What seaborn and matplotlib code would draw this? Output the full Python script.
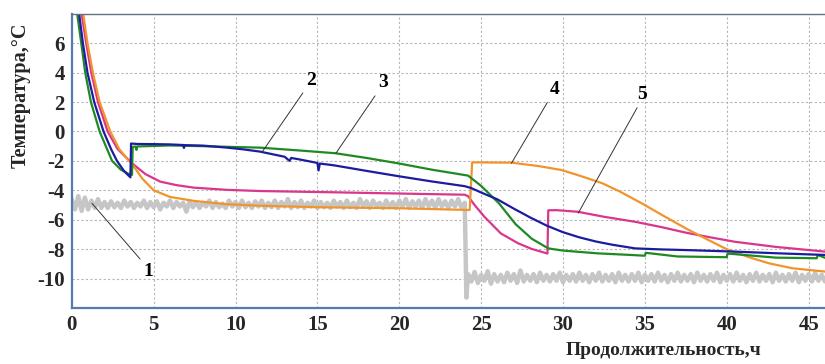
import numpy as np
import pandas as pd
import matplotlib
matplotlib.use("Agg")
import matplotlib.pyplot as plt
import seaborn as sns

# ---- data (time in hours, temperature in degC) ----
BLUE_T = [0.30, 0.45, 0.68, 0.96, 1.37, 1.94, 2.40, 2.76, 3.20, 3.58, 3.62, 4.00, 5.00, 6.00,
          6.80, 6.85, 6.90, 8.00, 9.50, 10.50, 11.50, 13.00, 13.30, 13.40, 14.00, 15.00, 15.07,
          15.15, 16.00, 18.00, 20.00, 22.00, 24.00, 24.40, 25.00, 26.00, 27.00, 28.00, 29.00,
          30.00, 31.00, 32.00, 33.00, 34.40, 36.00, 38.00, 40.50, 43.00, 46.10]
BLUE_V = [9.2, 8.0, 6.0, 4.0, 2.0, 0.0, -1.2, -2.0, -2.7, -3.12, -0.82, -0.85, -0.86, -0.88,
          -0.92, -1.12, -0.93, -0.96, -1.10, -1.22, -1.37, -1.72, -2.00, -1.80, -1.92, -2.14, -2.65,
          -2.18, -2.30, -2.68, -3.05, -3.40, -3.72, -3.85, -4.15, -4.62, -5.25, -5.85, -6.40,
          -6.85, -7.20, -7.48, -7.70, -7.95, -8.02, -8.08, -8.17, -8.28, -8.40]

GREEN_T = [0.25, 0.33, 0.58, 0.82, 1.17, 1.70, 2.46, 3.00, 3.50, 3.68, 3.72, 3.90, 3.95, 4.00,
           6.00, 8.00, 11.50, 14.00, 16.10, 18.00, 19.90, 22.00, 24.20, 25.00, 26.10, 27.10,
           28.10, 29.10, 30.00, 32.15, 34.20, 35.00, 35.05, 37.00, 40.00, 40.05, 43.00, 45.50,
           45.55, 46.10]
GREEN_V = [9.2, 8.0, 6.0, 4.0, 2.0, 0.0, -2.0, -2.6, -2.9, -2.95, -1.05, -1.02, -1.25, -1.02,
           -0.95, -1.00, -1.10, -1.30, -1.48, -1.80, -2.16, -2.60, -3.00, -3.70, -4.90, -6.30,
           -7.30, -7.95, -8.10, -8.29, -8.40, -8.45, -8.25, -8.50, -8.55, -8.30, -8.58, -8.62,
           -8.40, -8.63]

ORANGE_T = [0.55, 0.70, 0.96, 1.29, 1.70, 2.35, 2.90, 3.50, 3.68, 4.30, 5.00, 6.00, 7.45,
            9.50, 11.50, 15.00, 20.00, 24.30, 24.45, 26.85, 28.50, 29.90, 31.00, 32.40, 33.50,
            34.80, 36.00, 37.50, 39.00, 40.10, 41.50, 42.60, 44.00, 46.10]
ORANGE_V = [9.2, 8.0, 6.0, 4.0, 2.0, 0.0, -1.2, -2.0, -2.2, -3.2, -4.0, -4.45, -4.72,
            -4.95, -5.05, -5.15, -5.22, -5.34, -2.10, -2.12, -2.35, -2.62, -3.00, -3.52, -4.10,
            -4.88, -5.65, -6.59, -7.45, -8.06, -8.60, -8.97, -9.30, -9.54]

MAGENTA_T = [0.45, 0.60, 0.88, 1.19, 1.60, 2.19, 2.80, 3.68, 4.50, 5.40, 6.40, 7.45, 9.50,
             11.50, 16.20, 20.00, 24.00, 24.20, 24.60, 25.20, 26.20, 27.25, 28.07, 29.05,
             29.10, 29.60, 30.90, 32.50, 34.40, 36.00, 37.50, 39.00, 40.50, 43.00, 46.10]
MAGENTA_V = [9.2, 8.0, 6.0, 4.0, 2.0, 0.0, -1.2, -2.16, -2.9, -3.41, -3.65, -3.82, -3.97,
             -4.05, -4.14, -4.22, -4.30, -4.40, -5.00, -5.80, -6.93, -7.60, -7.98, -8.30,
             -5.36, -5.35, -5.46, -5.80, -6.14, -6.50, -6.88, -7.20, -7.50, -7.85, -8.18]

# gray sensor, sampled every 0.2 h: before the drop (from 0 h) and after it (from 24.2 h)
GRAY_STEP = 0.2
GRAY_PRE = [-4.6, -5.3, -4.4, -5.4, -4.5, -5.3, -4.7, -5.2, -4.6, -5.2,
            -4.8, -5.2, -4.75, -5.15, -4.85, -5.2, -4.7, -5.1, -4.8, -5.2,
            -4.85, -5.1, -4.7, -5.2, -4.8, -5.15, -4.75, -5.3, -4.85, -5.1,
            -4.7, -5.2, -4.8, -5.1, -4.85, -5.45, -4.75, -5.15, -4.8, -5.2,
            -4.85, -5.1, -4.7, -5.2, -4.8, -5.15, -4.9, -5.2, -4.7, -5.1,
            -4.8, -5.2, -4.7, -5.15, -4.85, -5.2, -4.75, -5.1, -4.7, -5.2,
            -4.85, -5.15, -4.7, -5.2, -4.8, -5.1, -4.6, -5.2, -4.8, -5.15,
            -4.7, -5.2, -4.85, -5.1, -4.7, -5.2, -4.8, -5.15, -4.85, -5.2,
            -4.7, -5.1, -4.8, -5.2, -4.7, -5.15, -4.85, -5.2, -4.6, -5.1,
            -4.75, -5.2, -4.7, -5.1, -4.85, -5.2, -4.7, -5.15, -4.8, -5.2,
            -4.7, -5.1, -4.6, -5.2, -4.75, -5.1, -4.7, -5.2, -4.6, -5.1,
            -4.7, -5.2, -4.6, -5.1, -4.75, -5.2, -4.7, -5.1, -4.6, -5.2,
            -4.85]
GRAY_DROP_T = [24.1]
GRAY_DROP_V = [-11.3]
GRAY_POST_START = 24.2
GRAY_POST = [-9.7, -10.2, -9.55, -10.3, -9.75, -10.15, -9.5, -10.35, -9.7, -10.2,
             -9.75, -10.25, -9.6, -10.15, -9.7, -10.3, -9.45, -10.2, -9.75, -10.15,
             -9.7, -10.25, -9.6, -10.15, -9.75, -10.2, -9.7, -10.15, -9.6, -10.25,
             -9.75, -10.15, -9.7, -10.2, -9.6, -10.15, -9.75, -10.25, -9.7, -10.15,
             -9.6, -10.2, -9.75, -10.15, -9.7, -10.25, -9.6, -10.15, -9.75, -10.2,
             -9.7, -10.15, -9.6, -10.25, -9.75, -10.15, -9.7, -10.2, -9.6, -10.15,
             -9.75, -10.25, -9.7, -10.15, -9.6, -10.2, -9.75, -10.15, -9.7, -10.25,
             -9.6, -10.15, -9.75, -10.2, -9.7, -10.15, -9.6, -10.25, -9.75, -10.15,
             -9.7, -10.2, -9.6, -10.15, -9.75, -10.25, -9.7, -10.15, -9.6, -10.2,
             -9.75, -10.15, -9.7, -10.25, -9.6, -10.15, -9.75, -10.2, -9.7, -10.15,
             -9.6, -10.25, -9.75, -10.15, -9.7, -10.2, -9.6, -10.15, -9.75, -10.2]

X_TICKS = [0, 5, 10, 15, 20, 25, 30, 35, 40, 45]
Y_TICKS = [-10, -8, -6, -4, -2, 0, 2, 4, 6]

# curve labels: text, text position, point on the curve, where the leader starts on the text
LABELS = [
    ("1", (4.7, -9.55), (1.23, -4.88), (0.0, 1.0)),
    ("2", (14.6, 3.5), (11.64, -1.37), (0.0, 0.0)),
    ("3", (19.0, 3.3), (16.13, -1.48), (0.0, 0.0)),
    ("4", (29.5, 2.85), (26.85, -2.16), (0.0, 0.0)),
    ("5", (34.8, 2.5), (30.93, -5.55), (0.3, 0.0)),
]

sns.set_theme(style="white")
plt.rcParams["font.family"] = ["Liberation Serif", "DejaVu Serif"]
plt.rcParams["font.weight"] = "bold"
plt.rcParams["axes.unicode_minus"] = False


def main():
    fig = plt.figure(figsize=(8.25, 3.64), dpi=100)
    ax = fig.add_axes([0.087, 0.154, 0.913, 0.808])

    gray_t = np.concatenate([
        GRAY_STEP * np.arange(len(GRAY_PRE)),
        GRAY_DROP_T,
        GRAY_POST_START + GRAY_STEP * np.arange(len(GRAY_POST)),
    ])
    gray_v = np.concatenate([GRAY_PRE, GRAY_DROP_V, GRAY_POST])
    gray = pd.DataFrame({"t": gray_t, "v": gray_v})
    sns.lineplot(data=gray, x="t", y="v", color="#c6c6c6", lw=3.2,
                 estimator=None, sort=False, ax=ax)

    curves = [
        (MAGENTA_T, MAGENTA_V, "#d9368c"),
        (ORANGE_T, ORANGE_V, "#f0952c"),
        (GREEN_T, GREEN_V, "#1f8a23"),
        (BLUE_T, BLUE_V, "#1c1ca0"),
    ]
    for t, v, c in curves:
        df = pd.DataFrame({"t": t, "v": v})
        sns.lineplot(data=df, x="t", y="v", color=c, lw=1.6,
                     estimator=None, sort=False, ax=ax)

    for txt, pos, xy, rel in LABELS:
        ax.annotate(txt, xy=xy, xytext=pos, ha="center", va="center",
                    fontsize=14, fontweight="bold", color="black",
                    arrowprops=dict(arrowstyle="-", color="#333333", lw=0.7,
                                    relpos=rel, shrinkA=1, shrinkB=0))

    ax.set_xlim(0, 46)
    ax.set_ylim(-12, 8)
    ax.set_xticks(X_TICKS)
    ax.set_yticks(Y_TICKS)
    ax.tick_params(axis="both", length=0, labelsize=15, pad=5)
    for lab in ax.get_xticklabels() + ax.get_yticklabels():
        lab.set_fontweight("bold")

    ax.grid(True, color="#b5b5b5", lw=0.8, linestyle=(0, (2, 2)))
    for side in ["left", "bottom"]:
        ax.spines[side].set_color("#5879b2")
        ax.spines[side].set_linewidth(1.6)
    ax.spines["top"].set_color("#5f7480")
    ax.spines["top"].set_linewidth(1.0)
    ax.spines["right"].set_visible(False)

    ax.set_xlabel("Продолжительность,ч", fontsize=14, fontweight="bold")
    ax.set_ylabel("Температура,°С", fontsize=14.5, fontweight="bold")
    ax.xaxis.set_label_coords(0.785, -0.115)
    ax.yaxis.set_label_coords(-0.055, 0.724)

    fig.savefig("out.png", dpi=100)


if __name__ == "__main__":
    main()
